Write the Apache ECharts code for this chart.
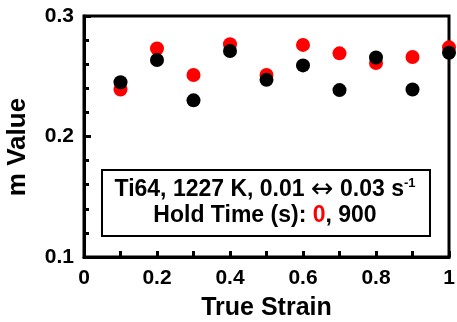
<!DOCTYPE html>
<html><head><meta charset="utf-8">
<script src="https://cdn.jsdelivr.net/npm/echarts@6/dist/echarts.min.js"></script>
<style>html,body{margin:0;padding:0;background:#fff}#c{width:457px;height:322px}</style>
</head><body><div id="c"></div>
<script>
const strain = [0.1, 0.2, 0.3, 0.4, 0.5, 0.6, 0.7, 0.8, 0.9, 1.0];
const hold0 = [0.239, 0.273, 0.251, 0.2765, 0.251, 0.276, 0.269, 0.261, 0.266, 0.274];
const hold900 = [0.245, 0.2635, 0.230, 0.271, 0.247, 0.259, 0.2385, 0.2655, 0.239, 0.2695];
const legendA = 'Ti64, 1227 K, 0.01 ';
const legendArrow = '\u2194';
const legendB = ' 0.03 s';
const legendSup = '-1';
const legendC = 'Hold Time (s): ';
const legendRed = '0';
const legendD = ', 900';
const xName = 'True Strain';
const yName = 'm Value';
const font = 'Liberation Sans, Arial, sans-serif';

const chart = echarts.init(document.getElementById('c'));
const pts = arr => strain.map((x, i) => [x, arr[i]]);
chart.setOption({
  animation: false,
  grid: { left: 84, right: 8, top: 16, bottom: 65, outerBoundsMode: 'none', containLabel: false, show: true, borderColor: '#000', borderWidth: 3, backgroundColor: 'transparent' },
  xAxis: {
    type: 'value', min: 0, max: 1, interval: 0.2,
    name: xName, nameLocation: 'middle', nameGap: 39,
    nameTextStyle: { fontFamily: font, fontWeight: 'bold', fontSize: 25, color: '#000' },
    axisLine: { lineStyle: { color: '#000', width: 3 } },
    axisTick: { inside: true, length: 6, lineStyle: { width: 3, color: '#000' } },
    minorTick: { show: true, splitNumber: 2, length: 6, lineStyle: { width: 3, color: '#000' } },
    splitLine: { show: false },
    axisLabel: { fontFamily: font, fontWeight: 'bold', fontSize: 21, color: '#000', margin: 11 }
  },
  yAxis: {
    type: 'value', min: 0.1, max: 0.3, interval: 0.1,
    axisLine: { lineStyle: { color: '#000', width: 3 } },
    axisTick: { inside: true, length: 7, lineStyle: { width: 3, color: '#000' } },
    minorTick: { show: true, splitNumber: 5, length: 5, lineStyle: { width: 3, color: '#000' } },
    splitLine: { show: false },
    axisLabel: { fontFamily: font, fontWeight: 'bold', fontSize: 21, color: '#000', margin: 10 }
  },
  series: [
    { type: 'scatter', data: pts(hold0), symbolSize: 14, itemStyle: { color: '#ff0000', opacity: 1 } },
    { type: 'scatter', data: pts(hold900), symbolSize: 14, itemStyle: { color: '#000000', opacity: 1 } }
  ],
  graphic: [
    { type: 'text', x: 18, y: 147, rotation: Math.PI / 2, style: {
        text: yName, align: 'center', verticalAlign: 'middle',
        fontFamily: font, fontWeight: 'bold', fontSize: 26, fill: '#000' } },
    { type: 'rect', shape: { x: 102, y: 170, width: 328, height: 66 }, style: { fill: '#fff', stroke: '#000', lineWidth: 2 }, z: 10 },
    { type: 'text', x: 265, y: 190, z: 11, style: {
        text: '{a|' + legendA + '}{arr|' + legendArrow + '}{a|' + legendB + '}{sup|' + legendSup + '}', align: 'center', verticalAlign: 'middle',
        rich: {
          a: { fontFamily: font, fontWeight: 'bold', fontSize: 23, fill: '#000' },
          arr: { fontFamily: 'DejaVu Sans', fontWeight: 'normal', fontSize: 27, fill: '#000' },
          sup: { fontFamily: font, fontWeight: 'bold', fontSize: 13, fill: '#000', verticalAlign: 'top', padding: [0, 0, 12, 0] }
        } } },
    { type: 'text', x: 265, y: 216, z: 11, style: {
        text: '{a|' + legendC + '}{r|' + legendRed + '}{a|' + legendD + '}', align: 'center', verticalAlign: 'middle',
        rich: {
          a: { fontFamily: font, fontWeight: 'bold', fontSize: 23, fill: '#000' },
          r: { fontFamily: font, fontWeight: 'bold', fontSize: 23, fill: '#ff0000' }
        } } }
  ]
});
</script></body></html>
